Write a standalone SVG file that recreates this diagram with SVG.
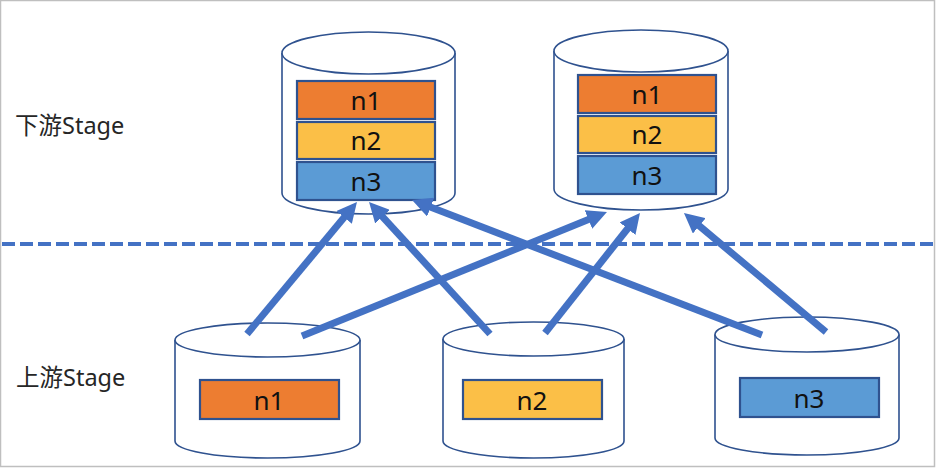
<svg xmlns="http://www.w3.org/2000/svg" width="936" height="469" viewBox="0 0 936 469">
<defs>
<style>
.cyl{fill:#fff;stroke:#2F528F;stroke-width:1.6}
.r1{fill:#ED7D31;stroke:#2F528F;stroke-width:2.2}
.r2{fill:#FBBF47;stroke:#2F528F;stroke-width:2.2}
.r3{fill:#5B9BD5;stroke:#2F528F;stroke-width:2.2}
.nt{font-family:"Noto Sans","Liberation Sans",sans-serif;font-size:26px;fill:#111;text-anchor:middle}
.lab{font-family:"Noto Sans","Noto Sans CJK SC",sans-serif;font-size:23.5px;fill:#262626}
.arr{stroke:#4472C4;stroke-width:7;fill:none;marker-end:url(#ah)}
</style>
<marker id="ah" viewBox="0 0 20 20" refX="6" refY="10" markerWidth="20" markerHeight="20" markerUnits="userSpaceOnUse" orient="auto">
<path d="M0,0 L20,10 L0,20 z" fill="#4472C4"/>
</marker>
</defs>
<rect x="0.5" y="0.5" width="934" height="466" fill="#fff" stroke="#BFBFBF" stroke-width="1.5"/>
<line x1="2" y1="244" x2="936" y2="244" stroke="#4472C4" stroke-width="4" stroke-dasharray="13 5"/>
<text class="lab" x="15" y="134">下游Stage</text>
<text class="lab" x="16" y="386">上游Stage</text>
<g id="down1">
<path class="cyl" d="M282,53 L282,193 A86.5,21 0 0 0 455,193 L455,53"/>
<ellipse class="cyl" cx="368.5" cy="53" rx="86.5" ry="21"/>
<rect class="r1" x="297" y="81" width="138" height="38"/>
<rect class="r2" x="297" y="122" width="138" height="37"/>
<rect class="r3" x="297" y="162" width="138" height="38"/>
<text class="nt" x="366" y="110">n1</text>
<text class="nt" x="366" y="150">n2</text>
<text class="nt" x="366" y="191">n3</text>
</g>
<g id="down2">
<path class="cyl" d="M554,51 L554,189 A87,21 0 0 0 728,189 L728,51"/>
<ellipse class="cyl" cx="641" cy="51" rx="87" ry="21"/>
<rect class="r1" x="578" y="75" width="138" height="38"/>
<rect class="r2" x="578" y="116" width="138" height="37"/>
<rect class="r3" x="578" y="156" width="138" height="38"/>
<text class="nt" x="647" y="104">n1</text>
<text class="nt" x="647" y="144">n2</text>
<text class="nt" x="647" y="185">n3</text>
</g>
<g id="up1">
<path class="cyl" d="M175,340 L175,441 A92.5,17 0 0 0 360,441 L360,340"/>
<ellipse class="cyl" cx="267.5" cy="340" rx="92.5" ry="17"/>
<rect class="r1" x="200" y="380" width="139" height="39"/>
<text class="nt" x="269" y="410">n1</text>
</g>
<g id="up2">
<path class="cyl" d="M443,339 L443,441 A90.5,17 0 0 0 624,441 L624,339"/>
<ellipse class="cyl" cx="533.5" cy="339" rx="90.5" ry="17"/>
<rect class="r2" x="463" y="380" width="139" height="39"/>
<text class="nt" x="532" y="410">n2</text>
</g>
<g id="up3">
<path class="cyl" d="M715,334.5 L715,438 A92,17 0 0 0 899,438 L899,334.5"/>
<ellipse class="cyl" cx="807" cy="334.5" rx="92" ry="17.5"/>
<rect class="r3" x="740" y="378" width="139" height="39"/>
<text class="nt" x="809" y="408">n3</text>
</g>
<g id="connectors">
<line class="arr" x1="247" y1="334" x2="348" y2="212.8"/>
<line class="arr" x1="302" y1="336" x2="594" y2="217.3"/>
<line class="arr" x1="490" y1="334" x2="378.5" y2="212.3"/>
<line class="arr" x1="545" y1="333" x2="631.3" y2="224"/>
<line class="arr" x1="762" y1="335" x2="425.1" y2="205"/>
<line class="arr" x1="826" y1="332" x2="694.7" y2="222"/>
</g>
</svg>
